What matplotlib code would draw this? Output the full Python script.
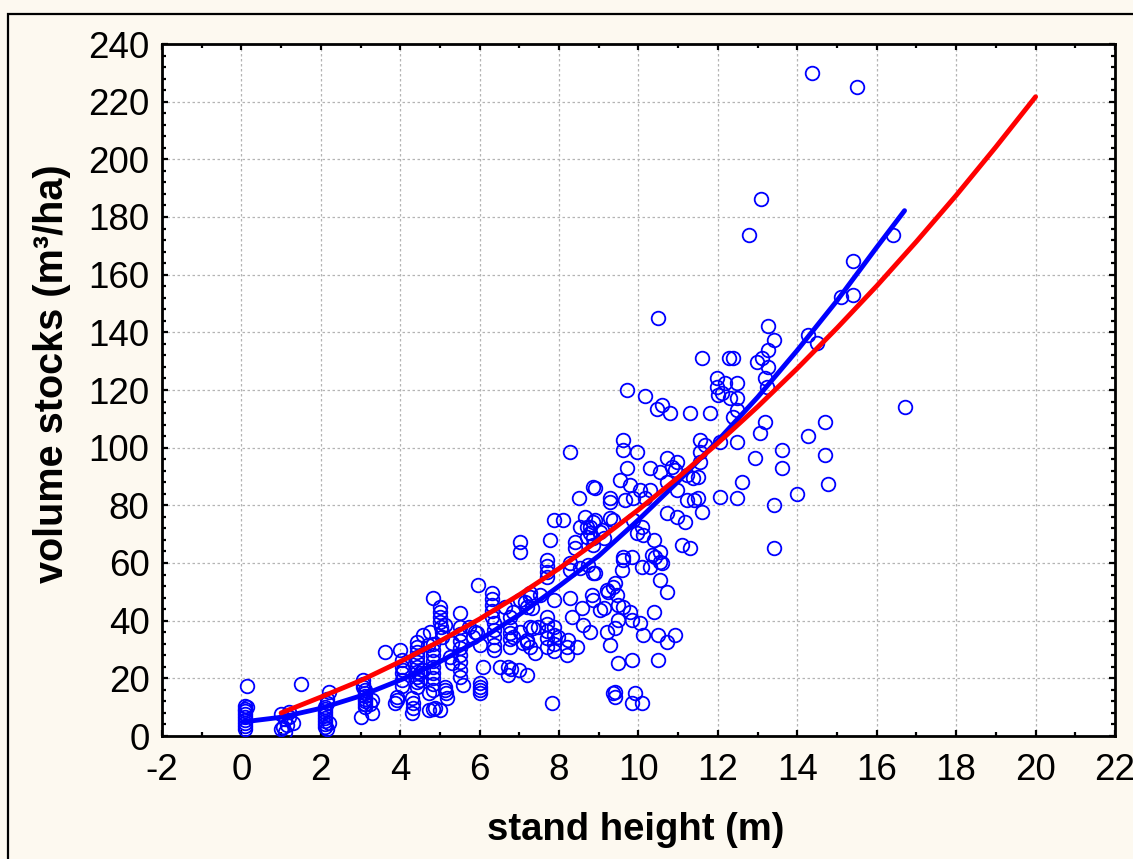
import matplotlib
matplotlib.use('Agg')
import matplotlib.pyplot as plt
from matplotlib.patches import Rectangle
from matplotlib.ticker import MultipleLocator

plt.rcParams['font.family'] = ['Liberation Sans', 'DejaVu Sans']
plt.rcParams['axes.unicode_minus'] = False

# measured plots: stand height (m) vs volume stock (m3/ha)
height = [
  0.1, 0.1, 0.1, 0.1, 0.1, 0.1, 0.1, 0.1, 0.1, 0.15, 0.15,
  1.0, 1.2, 1.0, 1.15, 1.3, 1.1, 1.1, 1.2, 1.5, 1.05,
  2.2, 2.15, 2.15, 2.1, 2.1, 2.1, 2.1, 2.1, 2.1, 2.1, 2.1, 2.15, 2.2,
  3.07, 3.07, 3.07, 3.1, 3.1, 3.1, 3.1, 3.1, 3.1, 3.1, 3.0, 3.3, 3.3, 3.25,
  3.62, 3.87, 3.91, 3.91, 4.0, 4.04, 4.05, 4.05, 4.04, 4.04, 4.08,
  4.29, 4.33, 4.31, 4.29, 4.41, 4.41, 4.41, 4.41, 4.41, 4.41, 4.41, 4.41, 4.41, 4.41,
  4.58, 4.5, 4.5, 4.71, 4.73, 4.73, 4.58, 4.75,
  4.83, 4.83, 4.83, 4.83, 4.83, 4.83, 4.83, 4.83, 4.83, 4.83, 4.88, 5.0, 4.83,
  5.0, 5.0, 5.0, 5.0, 5.02, 5.04, 5.06, 5.13, 5.13, 5.15, 5.17, 5.13,
  5.25, 5.3, 5.3, 5.51, 5.51, 5.51, 5.51, 5.51, 5.51, 5.51, 5.51, 5.51, 5.59,
  5.72, 5.88, 5.84, 5.93, 5.97, 6.01, 6.01, 6.0, 6.0, 6.0, 6.09,
  6.3, 6.3, 6.3, 6.3, 6.3, 6.35, 6.35, 6.35, 6.35, 6.35,
  6.51, 6.72, 6.8, 7.0, 7.19, 6.72, 6.77, 6.77, 6.77, 6.64, 6.77, 6.85, 6.77, 6.85,
  7.14, 7.19, 7.02, 7.27, 7.1, 7.27, 7.4, 7.31, 7.35, 7.02, 7.27, 7.19, 7.19,
  7.02, 7.02, 7.27, 7.52, 7.48,
  7.69, 7.69, 7.69, 7.69, 7.77, 7.86, 8.11, 7.69, 7.69, 7.69, 7.69, 7.69,
  7.86, 7.86, 7.86, 7.86, 7.98, 8.23, 8.2, 8.2, 7.82, 7.86, 8.28, 8.28, 8.28, 8.28,
  8.32, 8.45, 8.4, 8.4, 8.49, 8.53, 8.53, 8.57, 8.61,
  8.65, 8.7, 8.7, 8.74, 8.78, 8.78, 8.78, 8.82, 8.86, 8.86, 8.86, 8.86, 8.86, 8.86,
  8.91, 8.91, 8.91,
  9.03, 9.03, 9.07, 9.12, 9.12, 9.2, 9.2, 9.24, 9.28, 9.28, 9.28, 9.28, 9.37, 9.37,
  9.37, 9.41, 9.41, 9.41, 9.41, 9.45, 9.49, 9.49, 9.49,
  9.54, 9.58, 9.62, 9.62, 9.62, 9.62, 9.62, 9.66, 9.7, 9.7, 9.79, 9.79, 9.83, 9.83,
  9.83, 9.83, 9.85, 9.87, 9.91, 9.96, 9.96,
  10.04, 10.04, 10.08, 10.08, 10.08, 10.12, 10.12, 10.16, 10.17, 10.29, 10.29, 10.29,
  10.34, 10.38, 10.38, 10.42, 10.46, 10.5, 10.5, 10.5, 10.54, 10.54, 10.54, 10.54,
  10.59, 10.59, 10.71, 10.71, 10.71, 10.71, 10.71, 10.8, 10.84, 10.92, 10.92, 10.96,
  10.96, 10.96,
  11.09, 11.17, 11.22, 11.22, 11.3, 11.3, 11.38, 11.4, 11.51, 11.51, 11.55, 11.55,
  11.55, 11.6, 11.6, 11.68,
  11.81, 11.97, 11.97, 12.01, 12.06, 12.06, 12.1, 12.18, 12.27, 12.31, 12.39, 12.39,
  12.48, 12.48, 12.48, 12.48, 12.48, 12.6, 12.79, 12.94, 12.98,
  13.06, 13.08, 13.1, 13.19, 13.19, 13.23, 13.27, 13.27, 13.27, 13.4, 13.4, 13.4,
  13.61, 13.61, 13.99, 14.28, 14.28, 14.37, 14.49, 14.7, 14.7, 14.78, 15.1, 15.39,
  15.39, 15.5, 16.4, 16.72,
]
volume = [
  10.5, 9.5, 8.5, 7.5, 6.5, 5.5, 4.5, 3.5, 2.5, 17.3, 10.2,
  7.8, 8.2, 2.4, 3.8, 4.6, 1.5, 5.8, 6.5, 17.9, 3.2,
  15.4, 13.0, 11.3, 10.2, 9.2, 8.2, 7.2, 6.2, 5.2, 4.2, 3.2, 2.5, 4.5,
  19.4, 18.2, 17.0, 16.0, 15.0, 14.0, 13.0, 12.0, 11.0, 10.0, 6.5, 7.9, 12.5, 11.0,
  29.2, 11.6, 12.5, 13.6, 29.8, 26.4, 24.1, 21.8, 19.5, 17.2, 22.9,
  7.9, 9.6, 11.3, 13.1, 32.7, 30.9, 29.2, 27.5, 25.7, 24.0, 22.3, 20.5, 18.8, 17.1,
  22.9, 21.8, 19.4, 31.6, 14.8, 9.0, 35.0, 36.2,
  47.8, 32.0, 30.0, 28.0, 26.0, 24.0, 22.0, 20.0, 18.0, 16.0, 9.6, 9.0, 9.2,
  44.9, 43.1, 41.4, 39.6, 37.9, 36.2, 34.4, 17.1, 16.0, 14.8, 13.1, 38.5,
  27.5, 25.2, 32.2, 42.6, 37.9, 35.5, 33.0, 30.5, 28.0, 25.5, 23.0, 20.5, 17.7,
  37.9, 36.2, 34.4, 35.6, 52.4, 31.6, 18.3, 17.0, 15.9, 14.8, 24.0,
  49.5, 47.5, 45.5, 43.5, 41.4, 39.1, 36.8, 34.5, 31.6, 29.8,
  24.0, 24.0, 23.4, 22.9, 21.2, 21.2, 37.9, 35.6, 33.8, 44.9, 41.4, 34.4, 31.0, 43.1,
  46.6, 33.3, 36.2, 37.9, 32.2, 31.0, 28.7, 44.3, 37.4, 47.2, 48.3, 44.9, 32.7,
  67.4, 63.9, 49.5, 48.9, 37.9,
  61.0, 59.0, 57.0, 55.3, 68.0, 74.9, 74.9, 41.4, 39.0, 36.5, 34.0, 31.0,
  37.9, 35.0, 32.0, 29.5, 34.4, 33.3, 31.0, 28.1, 11.3, 47.2, 47.8, 59.9, 57.6, 98.6,
  41.4, 31.0, 67.4, 65.1, 82.4, 58.2, 72.6, 44.3, 38.5,
  76.1, 72.6, 69.1, 59.3, 36.2, 70.3, 72.6, 48.9, 86.5, 74.3, 68.6, 56.4, 66.3, 47.2,
  85.9, 74.9, 56.4,
  70.9, 43.7, 71.4, 68.6, 44.3, 50.6, 36.2, 50.0, 82.4, 81.3, 75.5, 31.6, 74.9, 51.8,
  14.8, 13.6, 53.0, 37.4, 15.4, 48.9, 25.2, 45.4, 40.2,
  88.8, 57.6, 102.7, 99.2, 62.2, 61.0, 44.9, 81.9, 92.9, 120.0, 87.1, 43.1, 62.2, 40.2,
  26.4, 11.3, 82.6, 74.9, 15.0, 98.6, 70.3,
  85.3, 39.1, 72.6, 58.7, 11.3, 69.7, 35.0, 82.6, 117.9, 85.3, 92.9, 58.7,
  62.8, 68.0, 43.1, 62.2, 113.3, 145.1, 35.0, 26.4, 91.7, 63.9, 60.5, 54.1,
  114.8, 60.1, 96.3, 88.2, 77.2, 50.0, 32.7, 111.9, 93.4, 92.3, 35.0, 95.1,
  85.3, 76.1,
  66.3, 74.3, 90.5, 81.9, 112.1, 65.1, 89.4, 82.0, 89.9, 82.4, 102.7, 98.6,
  95.1, 131.2, 77.8, 100.9,
  112.1, 124.0, 121.2, 118.3, 102.1, 82.8, 118.9, 122.3, 131.2, 117.1, 131.2, 110.8,
  113.1, 122.3, 117.1, 102.1, 82.4, 88.2, 173.9, 96.3, 129.8,
  105.0, 186.2, 131.2, 109.0, 124.0, 121.2, 142.2, 133.9, 128.1, 137.4, 80.1, 65.1,
  99.2, 92.9, 83.9, 139.1, 104.0, 229.8, 136.2, 109.0, 97.5, 87.4, 152.2, 152.9,
  164.9, 225.0, 173.8, 114.0,
]

# fitted curves
blue_x = [0.05, 1, 2, 3, 4, 5, 6, 7, 8, 9, 10, 11, 12, 13, 14, 15, 16, 16.7]
blue_y = [4.9, 6.5, 9.6, 13.9, 19.4, 25.8, 33.4, 42.1, 52.0, 62.5, 75.0, 88.3,
          102.5, 117.5, 133.8, 151.0, 169.5, 182.2]
red_x = [1, 2, 3, 4, 5, 6, 7, 8, 9, 10, 11, 12, 13, 14, 15, 16, 17, 18, 19, 20]
red_y = [8.0, 13.5, 19.2, 25.8, 32.9, 40.6, 49.0, 58.1, 68.0, 78.5, 89.7, 101.6,
         114.2, 127.5, 141.5, 156.1, 171.5, 187.5, 204.3, 221.7]

W, H = 1133, 859
fig = plt.figure(figsize=(W / 100, H / 100), dpi=100, facecolor='#fdf9f0')
ax = fig.add_axes([162 / W, 1 - 736 / H, (1115 - 162) / W, (736 - 44) / H])
ax.set_facecolor('white')

# outer frame of the graph window
fig.add_artist(Rectangle((8 / W, -0.1), 1.2, 1 - 14 / H + 0.1, transform=fig.transFigure,
                         fill=False, edgecolor='black', lw=1.6, clip_on=False))

ax.plot(height, volume, linestyle='none', marker='o', ms=9.8, mfc='none',
        mec='#0000ff', mew=1.3, zorder=3)
ax.plot(blue_x, blue_y, color='#0000ff', lw=3.5, solid_capstyle='round', zorder=4)
ax.plot(red_x, red_y, color='#ff0000', lw=3.5, solid_capstyle='round', zorder=5)

ax.set_xlim(-2, 22)
ax.set_ylim(0, 240)
ax.xaxis.set_major_locator(MultipleLocator(2))
ax.xaxis.set_minor_locator(MultipleLocator(1))
ax.yaxis.set_major_locator(MultipleLocator(20))
ax.yaxis.set_minor_locator(MultipleLocator(4))

ax.grid(True, which='major', color='#b4b4b4', lw=0.9, linestyle=(0, (2, 2)), zorder=0)
ax.set_axisbelow(True)

for s in ax.spines.values():
  s.set_linewidth(2)
ax.tick_params(which='both', direction='in', top=True, right=True, width=1.6)
ax.tick_params(which='major', length=4.5, labelsize=26.5)
ax.tick_params(which='minor', length=2.8)
ax.tick_params(axis='y', pad=9)
ax.tick_params(axis='x', pad=12)

fig.text(636 / W, 1 - 840 / H, 'stand height (m)', ha='center', va='baseline',
         fontsize=27.5, weight='bold')
fig.text(52 / W, 1 - 374 / H, 'volume stocks (m³/ha)', ha='center', va='center',
         rotation=90, fontsize=28.5, weight='bold')

fig.savefig('out.png', dpi=100, facecolor=fig.get_facecolor())
